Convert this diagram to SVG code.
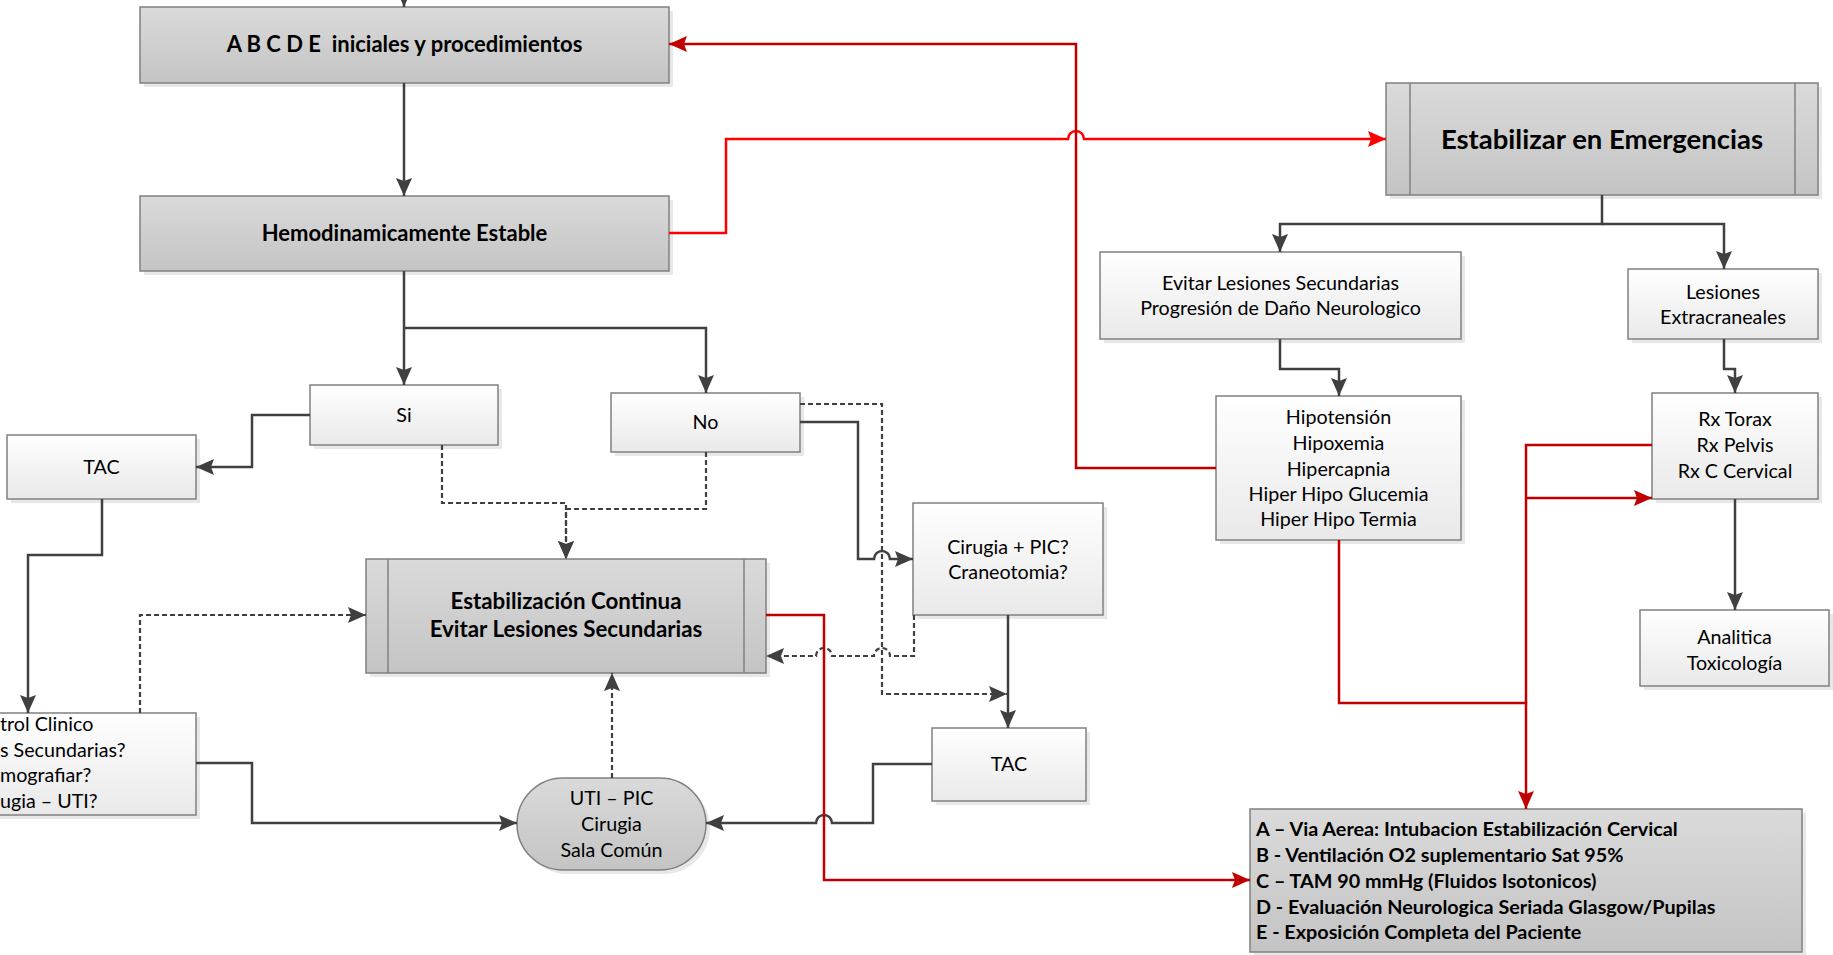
<svg xmlns="http://www.w3.org/2000/svg" width="1833" height="955" viewBox="0 0 1833 955">
<defs>
<linearGradient id="gLight" x1="0" y1="0" x2="0" y2="1"><stop offset="0" stop-color="#ffffff"/><stop offset="1" stop-color="#e9e9e9"/></linearGradient>
<linearGradient id="gGray" x1="0" y1="0" x2="0" y2="1"><stop offset="0" stop-color="#dadada"/><stop offset="1" stop-color="#c4c4c4"/></linearGradient>
<marker id="aD" markerUnits="userSpaceOnUse" markerWidth="20" markerHeight="18" refX="18" refY="8" orient="auto"><path d="M0,0 L18,8 L0,16 L3,8 z" fill="#404040"/></marker>
<marker id="aR" markerUnits="userSpaceOnUse" markerWidth="20" markerHeight="18" refX="18" refY="8" orient="auto"><path d="M0,0 L18,8 L0,16 L3,8 z" fill="#c00000"/></marker>
<marker id="aB" markerUnits="userSpaceOnUse" markerWidth="20" markerHeight="18" refX="18" refY="8" orient="auto"><path d="M0,0 L18,8 L0,16 L3,8 z" fill="#ff0000"/></marker>
</defs>
<style>
.sh{fill:#d8d8d8;opacity:0.6}
.lb{fill:url(#gLight);stroke:#808080;stroke-width:1.5}
.gb{fill:url(#gGray);stroke:#808080;stroke-width:1.5}
.bar{stroke:#808080;stroke-width:1.5}
.t{font-family:Lato,"Liberation Sans",sans-serif;font-size:19.7px;fill:#000;text-anchor:middle}
.ts{font-family:Lato,"Liberation Sans",sans-serif;font-size:19.7px;fill:#000;text-anchor:start}
.tb{font-family:Lato,"Liberation Sans",sans-serif;font-weight:bold;fill:#000;text-anchor:middle}
.tl{font-family:Lato,"Liberation Sans",sans-serif;font-weight:bold;font-size:19.8px;fill:#000}
.c{fill:none;stroke:#404040;stroke-width:2.5;marker-end:url(#aD)}
.d{fill:none;stroke:#404040;stroke-width:2.2;stroke-dasharray:5,3;marker-end:url(#aD)}
.r{fill:none;stroke:#c00000;stroke-width:2.5;marker-end:url(#aR)}
.rn{fill:none;stroke:#c00000;stroke-width:2.5}
.rb{fill:none;stroke:#ff0000;stroke-width:2.5;marker-end:url(#aB)}
</style>
<rect width="1833" height="955" fill="#ffffff"/>

<g id="n-abcde">
<rect class="sh" x="144" y="11" width="529" height="76"/>
<rect class="gb" x="140" y="7" width="529" height="76"/>
<text class="tb" x="404.5" y="52" font-size="22" xml:space="preserve">A B C D E  iniciales y procedimientos</text>
</g>
<g id="n-hemo">
<rect class="sh" x="144" y="200" width="529" height="75"/>
<rect class="gb" x="140" y="196" width="529" height="75"/>
<text class="tb" x="404.5" y="241" font-size="22">Hemodinamicamente Estable</text>
</g>
<g id="n-si">
<rect class="sh" x="314" y="389" width="188" height="60"/>
<rect class="lb" x="310" y="385" width="188" height="60"/>
<text class="t" x="404" y="422">Si</text>
</g>
<g id="n-no">
<rect class="sh" x="615" y="397" width="189" height="59"/>
<rect class="lb" x="611" y="393" width="189" height="59"/>
<text class="t" x="705.5" y="429">No</text>
</g>
<g id="n-tac1">
<rect class="sh" x="11" y="439" width="189" height="64"/>
<rect class="lb" x="7" y="435" width="189" height="64"/>
<text class="t" x="101.5" y="474">TAC</text>
</g>
<g id="n-control">
<rect class="sh" x="-150" y="717" width="350" height="102"/>
<rect class="lb" x="-154" y="713" width="350" height="102"/>
<text class="ts" x="0" y="731">trol Clinico</text>
<text class="ts" x="0" y="757">s Secundarias?</text>
<text class="ts" x="0" y="782">mografiar?</text>
<text class="ts" x="0" y="808">ugia – UTI?</text>
</g>
<g id="n-estcont">
<rect class="sh" x="370" y="563" width="400" height="114"/>
<rect class="gb" x="366" y="559" width="400" height="114"/>
<line class="bar" x1="388" y1="559" x2="388" y2="673"/>
<line class="bar" x1="744" y1="559" x2="744" y2="673"/>
<text class="tb" x="566" y="609" font-size="22.3">Estabilización Continua</text>
<text class="tb" x="566" y="637" font-size="22.3">Evitar Lesiones Secundarias</text>
</g>
<g id="n-uti">
<rect class="sh" x="521" y="782" width="189" height="92" rx="46" ry="46"/>
<rect class="gb" x="517" y="778" width="189" height="92" rx="46" ry="46"/>
<text class="t" x="611.5" y="805">UTI – PIC</text>
<text class="t" x="611.5" y="831">Cirugia</text>
<text class="t" x="611.5" y="857">Sala Común</text>
</g>
<g id="n-cirugia">
<rect class="sh" x="917" y="507" width="190" height="112"/>
<rect class="lb" x="913" y="503" width="190" height="112"/>
<text class="t" x="1008" y="554">Cirugia + PIC?</text>
<text class="t" x="1008" y="579">Craneotomia?</text>
</g>
<g id="n-tac2">
<rect class="sh" x="936" y="732" width="154" height="73"/>
<rect class="lb" x="932" y="728" width="154" height="73"/>
<text class="t" x="1009" y="771">TAC</text>
</g>
<g id="n-estabilizar">
<rect class="sh" x="1390" y="87" width="432" height="112"/>
<rect class="gb" x="1386" y="83" width="432" height="112"/>
<line class="bar" x1="1410" y1="83" x2="1410" y2="195"/>
<line class="bar" x1="1795" y1="83" x2="1795" y2="195"/>
<text class="tb" x="1602" y="149" font-size="27.5">Estabilizar en Emergencias</text>
</g>
<g id="n-evitar">
<rect class="sh" x="1104" y="256" width="361" height="87"/>
<rect class="lb" x="1100" y="252" width="361" height="87"/>
<text class="t" x="1280.5" y="290">Evitar Lesiones Secundarias</text>
<text class="t" x="1280.5" y="315">Progresión de Daño Neurologico</text>
</g>
<g id="n-lesiones">
<rect class="sh" x="1632" y="273" width="190" height="70"/>
<rect class="lb" x="1628" y="269" width="190" height="70"/>
<text class="t" x="1723" y="299">Lesiones</text>
<text class="t" x="1723" y="324">Extracraneales</text>
</g>
<g id="n-hipo">
<rect class="sh" x="1220" y="400" width="245" height="144"/>
<rect class="lb" x="1216" y="396" width="245" height="144"/>
<text class="t" x="1338.5" y="424">Hipotensión</text>
<text class="t" x="1338.5" y="450">Hipoxemia</text>
<text class="t" x="1338.5" y="476">Hipercapnia</text>
<text class="t" x="1338.5" y="501">Hiper Hipo Glucemia</text>
<text class="t" x="1338.5" y="526">Hiper Hipo Termia</text>
</g>
<g id="n-rx">
<rect class="sh" x="1656" y="397" width="166" height="106"/>
<rect class="lb" x="1652" y="393" width="166" height="106"/>
<text class="t" x="1735" y="426">Rx Torax</text>
<text class="t" x="1735" y="452">Rx Pelvis</text>
<text class="t" x="1735" y="478">Rx C Cervical</text>
</g>
<g id="n-analitica">
<rect class="sh" x="1644" y="614" width="189" height="76"/>
<rect class="lb" x="1640" y="610" width="189" height="76"/>
<text class="t" x="1734.5" y="644">Analitica</text>
<text class="t" x="1734.5" y="670">Toxicología</text>
</g>
<g id="n-details">
<rect class="sh" x="1254" y="813" width="552" height="143"/>
<rect class="gb" x="1250" y="809" width="552" height="143"/>
<text class="tl" x="1256" y="836">A – Via Aerea: Intubacion Estabilización Cervical</text>
<text class="tl" x="1256" y="862">B - Ventilación O2 suplementario Sat 95%</text>
<text class="tl" x="1256" y="888">C – TAM 90 mmHg (Fluidos Isotonicos)</text>
<text class="tl" x="1256" y="914">D - Evaluación Neurologica Seriada Glasgow/Pupilas</text>
<text class="tl" x="1256" y="939">E - Exposición Completa del Paciente</text>
</g>

<g id="connectors">
<path class="c" d="M404,-20 V7"/>
<path class="c" d="M404,83 V196"/>
<path class="c" d="M404,271 V385"/>
<path class="c" d="M404,328 H706 V393"/>
<path class="c" d="M310,415 H252 V467 H196"/>
<path class="c" d="M102,499 V555 H28 V713"/>
<path class="c" d="M196,763 H252 V823 H517"/>
<path class="c" d="M800,422 H858 V559 H874 A8,8 0 0 1 890,559 H913"/>
<path class="c" d="M1008,615 V728"/>
<path class="c" d="M932,764 H873 V823 H832 A8,8 0 0 0 816,823 H706"/>
<path class="c" d="M1602,195 V224 H1280 V252"/>
<path class="c" d="M1602,224 H1724 V269"/>
<path class="c" d="M1280,339 V369 H1339 V396"/>
<path class="c" d="M1724,339 V369 H1735 V393"/>
<path class="c" d="M1735,499 V610"/>
<path class="d" d="M442,445 V503 H566 V559"/>
<path class="d" d="M706,452 V509 H566 V559"/>
<path class="d" d="M140,713 V615 H366"/>
<path class="d" d="M800,404 H882 V694 H1007"/>
<path class="d" d="M914,615 V656 H890 A8,8 0 0 0 874,656 H832 A8,8 0 0 0 816,656 H766"/>
<path class="d" d="M612,778 V673"/>
<path class="rb" d="M669,233 H726 V139 H1068 A8,8 0 0 1 1084,139 H1386"/>
<path class="r" d="M1216,468 H1076 V44 H669"/>
<path class="r" d="M766,615 H824 V880 H1250"/>
<path class="r" d="M1339,540 V703 H1526 V809"/>
<path class="rn" d="M1652,445 H1526 V703"/>
<path class="r" d="M1526,498 H1652"/>
</g>
</svg>
